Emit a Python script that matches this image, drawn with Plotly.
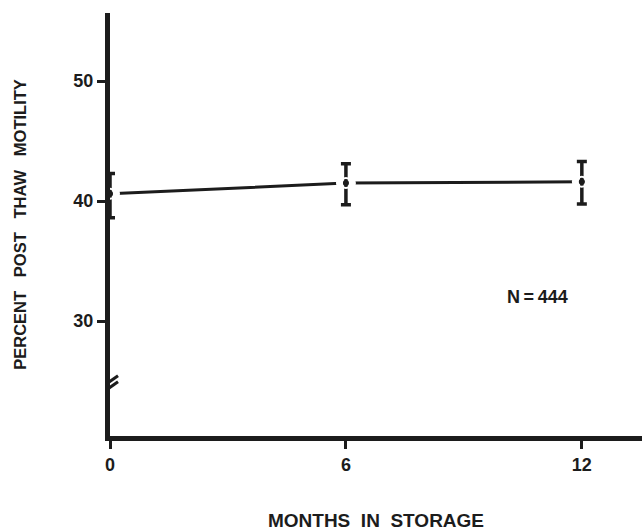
import plotly.graph_objects as go

months = [0, 6, 12]
motility = [40.6, 41.5, 41.6]
err_plus = [1.7, 1.6, 1.7]
err_minus = [2.0, 1.8, 1.85]
x_ticks = [0, 6, 12]
y_ticks = [30, 40, 50]
break_value = 24.6
n_label = "N\u2009=\u2009444"

ink = "#1c1c1c"
font_family = "Liberation Sans, Arial, sans-serif"

fig = go.Figure()
# connecting line
fig.add_trace(go.Scatter(x=months, y=motility, mode="lines",
                         line=dict(color=ink, width=3), hoverinfo="skip"))
# white gap around each mean
fig.add_trace(go.Scatter(x=months, y=motility, mode="markers",
                         marker=dict(color="white", size=20, line=dict(width=0)),
                         hoverinfo="skip"))
# error bars with small dot
fig.add_trace(go.Scatter(x=months, y=motility, mode="markers",
                         marker=dict(color=ink, size=6, symbol="circle"),
                         error_y=dict(type="data", symmetric=False, array=err_plus,
                                      arrayminus=err_minus, color=ink,
                                      thickness=3.5, width=5)))
# white gap inside the error bar around the dot
fig.add_trace(go.Scatter(x=months, y=motility, mode="markers",
                         marker=dict(color="rgba(0,0,0,0)", size=10,
                                     line=dict(color="white", width=2)),
                         hoverinfo="skip"))
fig.add_trace(go.Scatter(x=months, y=motility, mode="markers",
                         marker=dict(color=ink, size=5),
                         hoverinfo="skip"))

tickfont = dict(size=18, family=font_family, weight="bold", color=ink)
sp2 = "\u00a0\u00a0"
sp3 = "\u00a0\u00a0\u00a0"

fig.update_layout(
    width=642, height=531,
    margin=dict(l=110, r=0, t=13, b=95),
    paper_bgcolor="white", plot_bgcolor="white",
    showlegend=False,
    font=dict(family=font_family, color=ink),
    xaxis=dict(range=[0, 13.53], tickvals=x_ticks, ticktext=[str(v) for v in x_ticks],
               showline=True, linecolor=ink, linewidth=5, ticks="outside",
               ticklen=8, tickwidth=3, tickcolor=ink, showgrid=False, zeroline=False,
               tickfont=tickfont,
               title=dict(text="MONTHS" + sp2 + "IN" + sp2 + "STORAGE", standoff=42,
                          font=dict(size=19, family=font_family, weight="bold", color=ink))),
    yaxis=dict(range=[20.42, 55.67], tickvals=y_ticks, ticktext=[str(v) for v in y_ticks],
               showline=True, linecolor=ink, linewidth=5, ticks="outside",
               ticklen=8, tickwidth=3, tickcolor=ink, showgrid=False, zeroline=False,
               tickfont=tickfont,
               title=dict(text="PERCENT" + sp3 + "POST" + sp3 + "THAW" + sp3 + "MOTILITY",
                          standoff=44,
                          font=dict(size=16.5, family=font_family, weight="bold", color=ink))),
    annotations=[dict(x=10.86, y=32.0, xref="x", yref="y", text=n_label, showarrow=False,
                      font=dict(size=18, family=font_family, weight="bold", color=ink))],
)

# axis break symbol
fig.add_shape(type="line", xref="x", yref="y", xsizemode="pixel", ysizemode="pixel",
              xanchor=0, yanchor=break_value, x0=-12, x1=8, y0=-7, y1=7,
              line=dict(color="white", width=7))
for off in (-3, 3):
    fig.add_shape(type="line", xref="x", yref="y", xsizemode="pixel", ysizemode="pixel",
                  xanchor=0, yanchor=break_value, x0=-12, x1=8, y0=-7 + off, y1=7 + off,
                  line=dict(color=ink, width=3))

fig.write_html("out.html")
